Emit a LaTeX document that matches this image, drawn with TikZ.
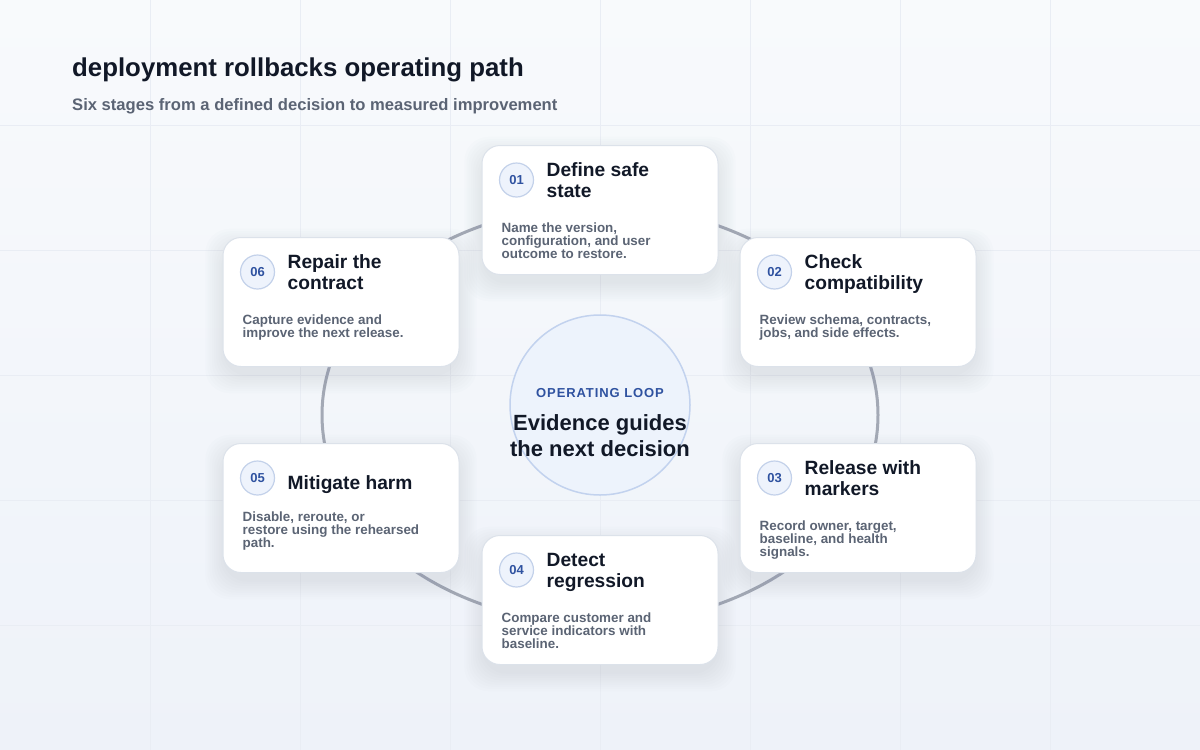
\documentclass[tikz,border=0pt]{standalone}
\usepackage{fontspec}
\setmainfont{Liberation Sans}
\usetikzlibrary{calc}
\definecolor{bgA}{HTML}{F8FAFC}
\definecolor{bgB}{HTML}{EEF2F9}
\definecolor{gridc}{HTML}{E9EDF4}
\definecolor{ink}{HTML}{111827}
\definecolor{muted}{HTML}{5B6474}
\definecolor{ringc}{HTML}{A3A9B5}
\definecolor{cardline}{HTML}{DCE2EA}
\definecolor{badgefill}{HTML}{EEF3FC}
\definecolor{badgeline}{HTML}{C3D1EA}
\definecolor{accent}{HTML}{2F52A0}
\definecolor{hubfill}{HTML}{EDF3FC}
\definecolor{hubline}{HTML}{C2D2EE}
\definecolor{shadowc}{HTML}{8A96B0}
\newcommand\ml[1]{\vtop{\halign{##\hfil\cr#1\crcr}}}
\newcommand\cardshadow[2]{%
  \foreach \i in {0,...,8}{%
    \fill[shadowc, opacity=0.018, rounded corners=24pt]
      ({#1-118-\i*2.2},{#2+64.5+9+\i*2.2}) rectangle ({#1+118+\i*2.2},{#2-64.5+9-\i*2.2});
  }%
}
\begin{document}
\begin{tikzpicture}[x=1pt,y=-1pt,
  card/.style={draw=cardline, line width=1pt, fill=white, rounded corners=18pt,
    minimum width=236pt, minimum height=129pt, inner sep=0pt},
  badge/.style={circle, draw=badgeline, line width=1.2pt, fill=badgefill,
    minimum size=34pt, inner sep=0pt, font=\fontsize{13}{13}\selectfont\bfseries, text=accent},
  ctitle/.style={anchor=base west, inner sep=0pt, font=\fontsize{19.2}{21}\selectfont\bfseries, text=ink},
  cdesc/.style={anchor=base west, inner sep=0pt, font=\fontsize{13.4}{13}\selectfont\bfseries, text=muted},
]
\fill[top color=bgA, bottom color=bgB] (0,0) rectangle (1200,750);
\useasboundingbox (0,0) rectangle (1200,750);
\foreach \x in {150,300,...,1050} \draw[gridc, line width=1pt] (\x,0) -- (\x,750);
\foreach \y in {125,250,...,625} \draw[gridc, line width=1pt] (0,\y) -- (1200,\y);

% heading
\node[anchor=base west, inner sep=0pt, font=\fontsize{25.8}{30}\selectfont\bfseries, text=ink] (title) at (72,76.5) {deployment rollbacks operating path};
\node[anchor=base west, inner sep=0pt, font=\fontsize{16.6}{20}\selectfont\bfseries, text=muted] (subtitle) at (72,110) {Six stages from a defined decision to measured improvement};

% ring
\draw[ringc, line width=3pt] (600,415) ellipse [x radius=278pt, y radius=209pt];

% shadows
\cardshadow{600}{210}
\cardshadow{858}{302}
\cardshadow{858}{508}
\cardshadow{600}{600}
\cardshadow{341}{508}
\cardshadow{341}{302}

% hub
\node[circle, draw=hubline, line width=1.5pt, fill=hubfill, minimum size=180pt, inner sep=0pt] (hub) at (600,405) {};
\node[inner sep=0pt, font=\fontsize{13}{13}\selectfont\bfseries\addfontfeature{LetterSpace=7}, text=accent] (hubk) at (600,393) {OPERATING LOOP};
\node[inner sep=0pt, align=center, font=\fontsize{22}{26}\selectfont\bfseries, text=ink] (hubt) at (600,436) {Evidence guides\\the next decision};

% cards
\node[card] (s1) at (600,210) {};
\node[card] (s2) at (858,302) {};
\node[card] (s3) at (858,508) {};
\node[card] (s4) at (600,600) {};
\node[card] (s5) at (341,508) {};
\node[card] (s6) at (341,302) {};

\node[badge] (b1) at ($(s1.north west)+(35,35)$) {01};
\node[ctitle] (t1) at ($(s1.north west)+(65,31)$) {\ml{Define safe\cr state}};
\node[cdesc] (d1) at ($(s1.north west)+(20,87.5)$) {\ml{Name the version,\cr configuration, and user\cr outcome to restore.}};

\node[badge] (b2) at ($(s2.north west)+(35,35)$) {02};
\node[ctitle] (t2) at ($(s2.north west)+(65,31)$) {\ml{Check\cr compatibility}};
\node[cdesc] (d2) at ($(s2.north west)+(20,87.5)$) {\ml{Review schema, contracts,\cr jobs, and side effects.}};

\node[badge] (b3) at ($(s3.north west)+(35,35)$) {03};
\node[ctitle] (t3) at ($(s3.north west)+(65,31)$) {\ml{Release with\cr markers}};
\node[cdesc] (d3) at ($(s3.north west)+(20,87.5)$) {\ml{Record owner, target,\cr baseline, and health\cr signals.}};

\node[badge] (b4) at ($(s4.north west)+(35,35)$) {04};
\node[ctitle] (t4) at ($(s4.north west)+(65,31)$) {\ml{Detect\cr regression}};
\node[cdesc] (d4) at ($(s4.north west)+(20,87.5)$) {\ml{Compare customer and\cr service indicators with\cr baseline.}};

\node[badge] (b5) at ($(s5.north west)+(35,35)$) {05};
\node[ctitle] (t5) at ($(s5.north west)+(65,46)$) {Mitigate harm};
\node[cdesc] (d5) at ($(s5.north west)+(20,78.5)$) {\ml{Disable, reroute, or\cr restore using the rehearsed\cr path.}};

\node[badge] (b6) at ($(s6.north west)+(35,35)$) {06};
\node[ctitle] (t6) at ($(s6.north west)+(65,31)$) {\ml{Repair the\cr contract}};
\node[cdesc] (d6) at ($(s6.north west)+(20,87.5)$) {\ml{Capture evidence and\cr improve the next release.}};
\end{tikzpicture}
\end{document}
